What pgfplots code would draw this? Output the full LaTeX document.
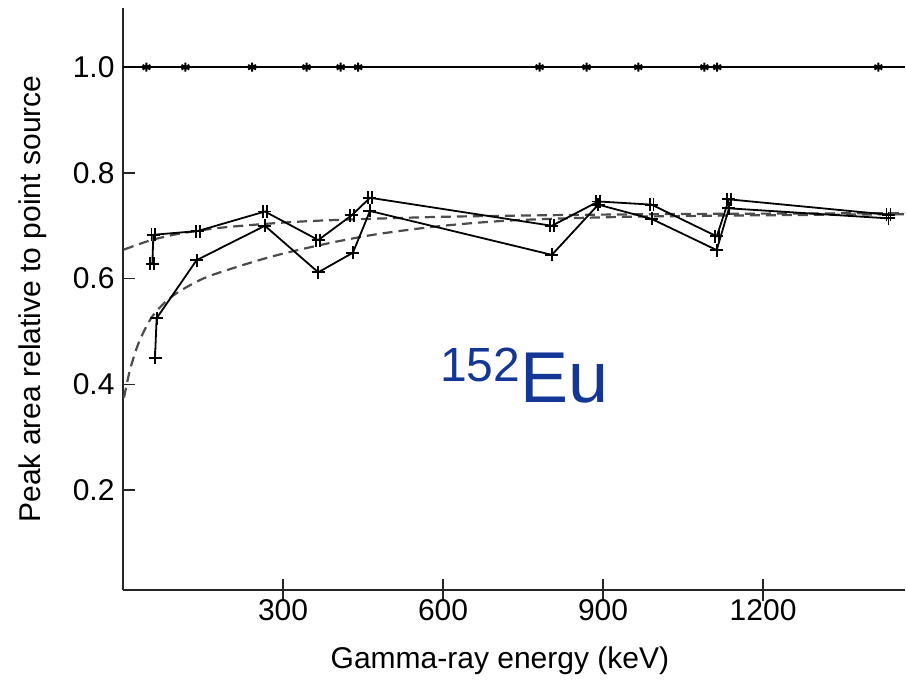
\documentclass[border=0pt]{standalone}
\usepackage{fontspec}
\setmainfont{Liberation Sans}
\usepackage{pgfplots}
\pgfplotsset{compat=1.18}
\definecolor{eublue}{RGB}{20,55,150}
\pgfdeclareplotmark{hash}{%
  \pgfpathmoveto{\pgfqpoint{-0.3\pgfplotmarksize}{-\pgfplotmarksize}}%
  \pgfpathlineto{\pgfqpoint{-0.3\pgfplotmarksize}{\pgfplotmarksize}}%
  \pgfpathmoveto{\pgfqpoint{0.3\pgfplotmarksize}{-\pgfplotmarksize}}%
  \pgfpathlineto{\pgfqpoint{0.3\pgfplotmarksize}{\pgfplotmarksize}}%
  \pgfpathmoveto{\pgfqpoint{-\pgfplotmarksize}{0pt}}%
  \pgfpathlineto{\pgfqpoint{\pgfplotmarksize}{0pt}}%
  \pgfusepathqstroke}
\begin{document}
\begin{tikzpicture}
\begin{axis}[
  name=ax,
  scale only axis, width=782pt, height=582pt,
  xmin=0, xmax=1466, ymin=0.011, ymax=1.112,
  axis x line=bottom, axis y line=left,
  axis line style={-, line width=1.8pt, black!85},
  xtick={300,600,900,1200}, ytick={0.2,0.4,0.6,0.8,1.0},
  tick align=inside, major tick length=12pt,
  tick style={line width=1.5pt, black!85},
  xtick style={/pgfplots/major tick length=22pt, yshift=-11pt},
  /pgf/number format/assume math mode=true,
  yticklabel style={/pgf/number format/fixed, /pgf/number format/fixed zerofill, /pgf/number format/precision=1, xshift=-5pt},
  xticklabel style={/pgf/number format/1000 sep={}, yshift=-6pt},
  every tick label/.append style={font=\fontsize{30}{30}\selectfont},
  xlabel={Gamma-ray energy (keV)},
  ylabel={Peak area relative to point source},
  every axis x label/.style={at={(rel axis cs:0.482,0)}, anchor=center, yshift=-71pt, font=\fontsize{30}{30}\selectfont},
  every axis y label/.style={at={(rel axis cs:0,0.5)}, xshift=-90pt, rotate=90, anchor=center, font=\fontsize{30}{30}\selectfont},
  clip=false,
]
% reference line at 1.0
\addplot[black, line width=1.8pt] coordinates {(0,1.0) (1466,1.0)};
\addplot[only marks, black, mark=asterisk, mark size=4.5pt, mark options={line width=2pt}] coordinates {
(44,1.0) (117,1.0) (242,1.0) (344,1.0) (408,1.0) (441,1.0) (781,1.0) (869,1.0) (966,1.0) (1090,1.0) (1114,1.0) (1416,1.0)};
% dashed curves
\addplot[black!70, line width=2.2pt, dash pattern=on 10pt off 6pt, smooth] coordinates {
(2,0.655) (50,0.672) (100,0.684) (150,0.692) (200,0.698) (300,0.706) (400,0.711) (600,0.717) (800,0.720) (1000,0.722) (1200,0.723) (1466,0.724)};
\addplot[black!70, line width=2.2pt, dash pattern=on 10pt off 6pt, smooth] coordinates {
(2,0.375) (13,0.427) (30,0.480) (56,0.530) (94,0.568) (150,0.600) (213,0.622) (276,0.641) (332,0.655) (400,0.670) (482,0.685) (600,0.700) (726,0.710) (900,0.716) (1100,0.719) (1466,0.722)};
% upper measured series
\addplot[black, line width=1.8pt, mark=hash, mark size=6.5pt, mark options={line width=1.8pt}] coordinates {
(55,0.628) (57,0.683) (140,0.690) (266,0.727) (366,0.673) (429,0.720) (463,0.753) (804,0.700) (891,0.746) (991,0.740) (1113,0.680) (1136,0.750) (1435,0.721)};
% lower measured series
\addplot[black, line width=1.8pt, mark=+, mark size=6.5pt, mark options={line width=1.8pt}] coordinates {
(60,0.450) (63,0.525) (138,0.635) (266,0.700) (366,0.612) (431,0.649) (463,0.728) (804,0.645) (891,0.740) (991,0.713) (1113,0.654) (1136,0.733) (1435,0.714)};
\node[anchor=base west, text=eublue, inner sep=0pt] at (axis cs:594,0.365)
  {\raisebox{21pt}{\fontsize{48}{48}\selectfont 152}\fontsize{72}{72}\selectfont Eu};
\end{axis}
\pgfresetboundingbox
\path[use as bounding box] ([shift={(-123pt,-89pt)}]ax.south west) rectangle ([shift={(1pt,8pt)}]ax.north east);
\end{tikzpicture}
\end{document}
